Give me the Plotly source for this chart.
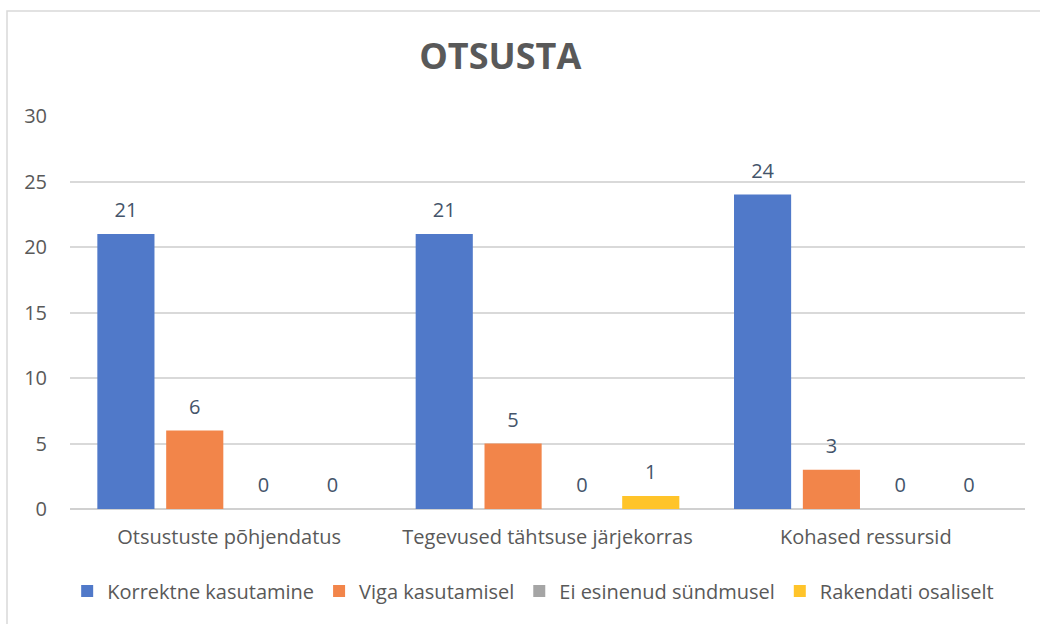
import plotly.graph_objects as go

categories = ["Otsustuste põhjendatus", "Tegevused tähtsuse järjekorras", "Kohased ressursid"]
series_names = ["Korrektne kasutamine", "Viga kasutamisel", "Ei esinenud sündmusel", "Rakendati osaliselt"]
korrektne = [21, 21, 24]
viga = [6, 5, 3]
ei_esinenud = [0, 0, 0]
osaliselt = [0, 1, 0]
colors = ["#5079c9", "#f2854a", "#a5a5a5", "#ffc42a"]

values = [korrektne, viga, ei_esinenud, osaliselt]
FONT = "Open Sans"

fig = go.Figure()
for i, (name, vals) in enumerate(zip(series_names, values)):
    fig.add_trace(go.Bar(
        x=categories, y=vals, name=name, marker_color=colors[i],
        marker_line_width=0, offsetgroup=str(i), legendgroup=name,
    ))
for i, (name, vals) in enumerate(zip(series_names, values)):
    fig.add_trace(go.Scatter(
        x=categories, y=vals, mode="markers+text", text=[str(v) for v in vals],
        textposition="top center", offsetgroup=str(i), showlegend=False,
        marker=dict(size=17, opacity=0), hoverinfo="skip", cliponaxis=False,
        textfont=dict(family=FONT, size=20, color="#44546a"),
    ))

fig.update_layout(
    width=1040, height=624,
    margin=dict(l=70, r=15, t=116, b=115),
    paper_bgcolor="white", plot_bgcolor="white",
    barmode="group", scattermode="group",
    bargap=0.135, bargroupgap=0.17,
    title=dict(text="<b>OTSUSTA</b>", x=0.481, xanchor="center", y=1 - 56 / 624, yanchor="middle",
               font=dict(family=FONT, size=36, color="#595959")),
    font=dict(family=FONT, size=20, color="#595959"),
    legend=dict(orientation="h", x=0.485, xanchor="center", yref="container", y=1 - 591 / 624,
                yanchor="middle", font=dict(family=FONT, size=20, color="#595959"),
                itemwidth=30, traceorder="normal"),
    yaxis=dict(range=[0, 30], dtick=5, showgrid=True, gridcolor="#d9d9d9", gridwidth=1.5,
               zeroline=True, zerolinecolor="#d0d0d0", zerolinewidth=2,
               ticks="", ticklabelstandoff=22, tickfont=dict(family=FONT, size=20, color="#595959")),
    xaxis=dict(showgrid=False, ticks="", showline=False,
               tickfont=dict(family=FONT, size=20, color="#595959"), ticklabelstandoff=14),
    shapes=[dict(type="rect", xref="paper", yref="paper",
                 x0=(7 - 70) / 955, x1=1.2, y0=-0.5, y1=(509 - 11) / 393,
                 line=dict(color="#d9d9d9", width=1.5), fillcolor="rgba(0,0,0,0)", layer="below")],
)

fig.write_html("out.html", config={"displayModeBar": False},
               post_script="document.body.style.margin='0';")
